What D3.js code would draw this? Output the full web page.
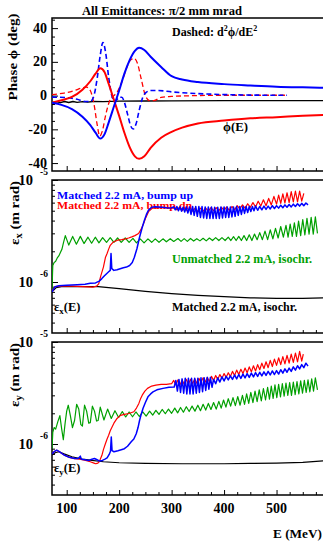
<!DOCTYPE html>
<html>
<head>
<meta charset="utf-8">
<script src="https://cdn.jsdelivr.net/npm/d3@7"></script>
<style>
  body { margin: 0; background: #fff; }
  svg { display: block; font-family: "Liberation Serif", "Times New Roman", serif; font-weight: bold; }
</style>
</head>
<body>
<svg id="chart" width="323" height="542"></svg>
<script>
// ---- data ----
// phase curves, [E (MeV), phi (deg)]
const phiBlue = [[72,-4.3],[90,-5.5],[110,-8],[130,-12.5],[145,-17.5],[155,-22],[164,-25.5],[172,-23],[180,-16],[190,-6.5],[200,3],[210,13],[220,21],[230,26.5],[238,28.3],[248,27],[260,23],[280,17],[300,11.5],[320,9.5],[350,8],[400,6.8],[450,6],[500,5.3],[550,4.9],[600,4.6]];
const phiRed = [[72,-4.3],[90,-2.8],[110,-0.8],[130,3.5],[145,8.5],[155,13],[164,16.2],[172,14],[180,7],[190,-2.5],[200,-12],[210,-22],[220,-30.5],[230,-36],[238,-37.5],[248,-36],[260,-31],[280,-25],[300,-21.5],[320,-19],[350,-16.5],[400,-14.8],[450,-13.5],[500,-12.8],[550,-12],[600,-11.4]];
const phiBlack = [[72,-4.3],[80,-3.6],[88,-4.2],[96,-3.5],[104,-4.1],[112,-3.5],[120,-4.0],[130,-3.6],[140,-3.9],[150,-3.5],[170,-3.6],[200,-3.3],[250,-3.2],[300,-3.1],[400,-3.0],[500,-3.0],[600,-3.0]];
const d2phiBlue = [[72,-0.9],[100,-1.2],[120,-2.2],[135,-3.5],[145,-3.5],[152,0],[158,10],[164,24],[169,31.5],[174,26],[180,11],[186,0],[192,-3.5],[200,-1],[205,-1],[210,-4],[216,-11],[222,-18],[227,-19.8],[232,-17],[238,-9],[245,-1],[252,2],[260,3],[275,3],[300,2.2],[350,1.2],[400,0.6],[450,0.3],[520,0.2]];
const d2phiRed = [[72,0.6],[95,1.5],[115,3],[130,4.6],[138,5],[145,3],[152,-5],[158,-17],[163,-24],[168,-21],[174,-12],[182,-3],[190,0],[196,2],[205,8],[215,17],[223,21.5],[229,22],[235,19],[242,10],[250,0],[258,-3],[266,-3],[280,-1],[300,-0.5],[350,0],[400,0.2],[450,0.2],[520,0.2]];

// horizontal emittance, [E (MeV), eps_x (1e-6 m rad)]
const exBlack = [[72,0.80],[80,0.88],[90,0.90],[120,0.90],[160,0.90],[200,0.86],[250,0.81],[300,0.77],[350,0.74],[400,0.72],[450,0.70],[500,0.69],[550,0.69],[600,0.70]];
const exBlue = [[72,0.80],[75,0.85],[78,0.9],[85,0.92],[100,0.93],[120,0.94],[135,0.95],[145,0.97],[155,0.98],[162,1.02],[167,1.08],[172,1.15],[177,1.22],[180,1.26],[183,1.3],[184.5,1.9],[186,1.35],[190,1.3],[196,1.32],[202,1.35],[208,1.38],[214,1.4],[220,1.45],[225,1.55],[229,1.75],[234,2.13],[238.5,2.7],[243.4,3.35],[248,4.0],[252,4.6],[256,5.07],[262,5.4],[268.8,5.47],[275,5.45],[282,5.42],[290,5.35],[298,5.3],
  [304,5.45],[307,5.1],[310,5.5],[313,5.0],[316,5.45],[319,4.95],[322,5.4],[325,4.85],[328,5.45],[331,4.75],[334,5.45],[337,4.6],[340,5.5],[343,4.5],[346,5.5],[349,4.4],[352,5.5],[355,4.3],[358,5.5],[361,4.25],[364,5.45],[367,4.2],[370,5.45],[373,4.2],[376,5.45],[379,4.2],[382,5.4],[385,4.2],[388,5.4],[391,4.2],[394,5.45],[397,4.25],[400,5.45],[403,4.3],[406,5.45],[409,4.3],[412,5.45],[415,4.35],[418,5.45],[421,4.4],[424,5.5],[427,4.5],[430,5.5],[433,4.6],[436,5.5],[439,4.7],[442,5.5],[445,4.8],[448,5.5],[451,4.9],[454,5.5],[457,5.0],[460,5.55],[464,5.05],[468,5.5],[472,5.1],[476,5.55],[480,5.15],[484,5.55],[488,5.2],[492,5.6],[496,5.25],[500,5.6],[504,5.3],[508,5.65],[512,5.35],[516,5.7],[520,5.4],[524,5.75],[528,5.45],[532,5.8],[536,5.5],[540,5.85],[544,5.55],[548,5.9],[552,5.6],[556,5.95],[560,5.7]];
const exRed = [[72,0.80],[75,0.86],[78,0.9],[90,0.91],[110,0.91],[130,0.9],[150,0.89],[157,0.91],[161,0.96],[165,1.15],[170,1.4],[174,1.75],[177,1.9],[180,2.1],[183,2.29],[189,2.47],[197,2.57],[205,2.6],[212,2.65],[218,2.7],[224,2.77],[230,2.85],[237,2.99],[242,3.3],[246.6,3.75],[251,4.3],[256,4.89],[262.4,5.26],[270,5.35],[280,5.4],[290,5.35],[300,5.3],
  [305,5.45],[310,5.1],[315,5.4],[320,5.0],[325,5.35],[330,4.95],[335,5.3],[340,4.95],[345,5.3],[350,4.9],[355,5.3],[360,4.95],[365,5.3],[370,4.95],[375,5.35],[380,5.0],[385,5.35],[390,5.0],[395,5.4],[400,5.05],[405,5.45],[410,5.05],[415,5.5],[420,5.1],[425,5.6],[430,5.2],[435,5.7],[440,5.3],[445,5.85],[450,5.4],[455,6.0],[460,5.45],[465,6.2],[470,5.55],[475,6.4],[480,5.6],[485,6.6],[490,5.7],[495,6.9],[500,5.8],[504,7.1],[508,5.9],[512,7.3],[516,5.95],[520,7.5],[524,6.0],[528,7.7],[532,6.1],[536,7.8],[540,6.1],[544,7.8],[548,6.2],[552,7.4]];
const exGreen = [[72,0.83],[73.5,1.45],[76,1.55],[79,1.6],[82,1.72],[85,1.8],[88,1.95],[91,2.1],[94,2.45],[97.4,2.85],[104,2.3],[111.4,2.8],[118.5,2.35],[126,2.8],[133,2.38],[140.6,2.75],[147.5,2.4],[154.5,2.75],[161.5,2.42],[168.5,2.72],[176,2.45],[183,2.72],[190,2.45],[197,2.7],[204,2.45],[211.6,2.7],[219,2.45],[226.3,2.68],[233,2.42],[240.2,2.65],[247.5,2.42],[254.9,2.65],[262,2.45],[268.8,2.65],[276,2.45],[283.5,2.65],[290,2.48],[297.4,2.66],[304,2.5],[312,2.67],[318,2.5],[324,2.66],[330,2.5],[336,2.67],[342,2.52],[348,2.66],[354,2.53],[360,2.68],[366,2.53],[372,2.7],[378,2.55],[384,2.72],[390,2.55],[396,2.72],[402,2.55],[408,2.75],[413,2.55],[418,2.78],[423,2.55],[428,2.8],[433,2.55],[438,2.85],[443,2.55],[448,2.9],[453,2.55],[458,2.95],[463,2.6],[468,3.05],[473,2.6],[478,3.15],[483,2.6],[488,3.25],[493,2.65],[498,3.35],[503,2.7],[508,3.5],[513,2.75],[518,3.6],[522,2.75],[526,3.7],[530,2.8],[534,3.8],[538,2.8],[542,3.95],[546,2.85],[550,4.1],[554,2.9],[558,4.2],[562,2.95],[566,4.3],[570,2.95],[574,4.35],[578,3.0]];

// vertical emittance, [E (MeV), eps_y (1e-6 m rad)]
const eyBlack = [[72,0.78],[78,0.82],[85,0.84],[95,0.8],[110,0.75],[130,0.71],[148,0.69],[170,0.67],[200,0.655],[250,0.645],[320,0.64],[400,0.64],[450,0.645],[500,0.65],[550,0.66],[600,0.69]];
const eyBlue = [[72,0.8],[76,0.84],[81,0.87],[86,0.84],[95,0.78],[105,0.74],[115,0.72],[122,0.72],[126,0.76],[128,0.71],[135,0.7],[142,0.69],[148,0.71],[153,0.72],[158,0.7],[163,0.68],[168,0.69],[173,0.71],[177,0.73],[181,0.79],[183.5,0.85],[185,1.17],[186.5,0.86],[190,0.84],[197.7,0.86],[204,0.88],[210,0.9],[216,0.95],[223,1.05],[228,1.12],[232.6,1.26],[236,1.45],[239,1.71],[242,1.95],[245.4,2.23],[250,2.55],[254.9,2.9],[260,3.1],[264.5,3.24],[272,3.4],[283.6,3.51],[295,3.6],[305,3.62],
  [308,4.2],[311,3.3],[314,4.3],[317,3.2],[320,4.35],[323,3.15],[326,4.4],[329,3.1],[332,4.4],[335,3.1],[338,4.4],[341,3.1],[344,4.4],[347,3.15],[350,4.4],[353,3.2],[356,4.45],[359,3.25],[362,4.45],[365,3.35],[368,4.5],[371,3.45],[374,4.5],[377,3.6],[380,4.3],[384,3.9],[388,4.45],[392,4.05],[396,4.55],[400,4.15],[404,4.6],[408,4.25],[412,4.65],[416,4.3],[420,4.75],[424,4.35],[428,4.8],[432,4.4],[436,4.85],[440,4.45],[444,4.9],[448,4.5],[452,4.95],[456,4.55],[460,5.0],[464,4.6],[468,5.05],[472,4.65],[476,5.1],[480,4.7],[484,5.15],[488,4.75],[492,5.2],[496,4.8],[500,5.25],[504,4.85],[508,5.35],[512,4.95],[516,5.45],[520,5.05],[524,5.55],[528,5.15],[532,5.7],[536,5.3],[540,5.85],[544,5.45],[548,6.0],[552,5.6],[556,6.2],[560,5.8]];
const eyRed = [[72,0.8],[76,0.84],[81,0.87],[86,0.84],[95,0.78],[105,0.74],[115,0.72],[125,0.71],[136,0.69],[145,0.67],[152,0.65],[155,0.64],[158,0.645],[161,0.66],[164,0.71],[167,0.77],[170,0.88],[173.6,1.0],[177,1.12],[180,1.22],[183,1.35],[186.5,1.47],[190,1.6],[196,1.78],[202.6,1.91],[210,1.95],[218.5,1.99],[228,2.07],[233,2.25],[237.6,2.5],[241,2.8],[244,3.01],[249,3.3],[254,3.51],[262,3.7],[270,3.78],[280,3.85],[290,3.85],[300,3.9],
  [304,4.2],[308,3.8],[312,4.25],[316,3.8],[320,4.25],[324,3.85],[328,4.3],[332,3.85],[336,4.3],[340,3.9],[344,4.35],[348,3.95],[352,4.4],[356,4.0],[360,4.45],[364,4.05],[368,4.5],[372,4.1],[376,4.6],[380,4.2],[384,4.7],[388,4.3],[392,4.8],[396,4.4],[400,4.9],[404,4.5],[408,5.0],[412,4.6],[416,5.15],[420,4.7],[424,5.3],[428,4.8],[432,5.4],[436,4.9],[440,5.55],[444,5.0],[448,5.7],[452,5.1],[456,5.85],[460,5.2],[464,6.0],[468,5.35],[472,6.2],[476,5.5],[480,6.4],[484,5.6],[488,6.6],[492,5.75],[496,6.8],[500,5.9],[504,7.0],[508,6.0],[512,7.2],[516,6.1],[520,7.4],[524,6.2],[528,7.6],[532,6.3],[536,7.8],[540,6.4],[544,8.1],[548,6.5],[551,7.6]];
const eyGreen = [[72,0.9],[73.5,1.3],[76,1.45],[79,1.4],[83,1.65],[87,1.9],[90.5,1.4],[93.6,1.1],[97,1.6],[100,2.1],[103,2.4],[107,1.9],[111,1.45],[115,1.7],[119,2.45],[123,2.2],[127,1.55],[130,1.5],[134,2.4],[138,2.1],[142,1.6],[145,1.62],[149,2.35],[153,2.1],[157,1.68],[160,1.7],[164,2.3],[171,1.72],[178,2.2],[185,1.78],[192,2.12],[199,1.82],[206,2.08],[212.5,1.84],[219,2.06],[225.5,1.85],[232,2.06],[238.5,1.86],[245,2.07],[251.5,1.88],[258,2.1],[264,1.92],[270,2.14],[276,1.95],[282,2.18],[288,1.98],[294,2.2],[300,2.0],[306,2.25],[311.5,2.02],[317,2.28],[322.5,2.05],[328,2.32],[333.5,2.08],[339,2.35],[344.5,2.1],[350,2.4],[355,2.12],[360,2.45],[365,2.15],[370,2.5],[375,2.18],[380,2.55],[385,2.2],[390,2.62],[394.5,2.25],[399,2.7],[403.5,2.3],[408,2.78],[412.5,2.35],[417,2.85],[421.5,2.38],[426,2.92],[430.5,2.4],[435,3.0],[439,2.45],[443,3.1],[447,2.5],[451,3.2],[455,2.55],[459,3.3],[463,2.6],[467,3.4],[471,2.65],[475,3.5],[479,2.7],[483,3.6],[486.5,2.75],[490,3.7],[493.5,2.8],[497,3.8],[500.5,2.85],[504,3.85],[507.5,2.9],[511,3.9],[514.5,2.95],[518,3.95],[521.5,3.0],[525,4.0],[528.5,3.0],[532,4.05],[535.5,3.05],[539,4.1],[542.5,3.1],[546,4.15],[549.5,3.15],[553,4.2],[556.5,3.2],[560,4.25],[563.5,3.25],[567,4.35],[570.5,3.3],[574,4.45],[578,3.4]];

// ticks
const xMajor = [100, 200, 300, 400, 500, 600];
const xLabels = [100, 200, 300, 400, 500];
const xMinor = [125, 150, 175, 225, 250, 275, 325, 350, 375, 425, 450, 475, 525, 550, 575];
const phiMajor = [-40, -20, 0, 20, 40];
const phiMinor = [-35, -30, -25, -15, -10, -5, 5, 10, 15, 25, 30, 35, 45];
const logMajor = [1, 10];
const logExp = ['-6', '-5'];
const logMinor = [0.4, 0.5, 0.6, 0.7, 0.8, 0.9, 2, 3, 4, 5, 6, 7, 8, 9];

const BLUE = '#0000ff', RED = '#ff0000', GREEN = '#00a000';

// ---- layout ----
const svg = d3.select('#chart');
const x = d3.scaleLinear().domain([72, 600]).range([52, 329]);
const pPhase = { id: 'c1', top: 18, bottom: 171 };
const pEx = { id: 'c2', top: 180, bottom: 333 };
const pEy = { id: 'c3', top: 342, bottom: 495 };

const yPhase = d3.scaleLinear().domain([-44.7, 46]).range([pPhase.bottom, pPhase.top]);
const yEx = d3.scaleLog().domain([Math.sqrt(0.1), 10]).range([pEx.bottom, pEx.top]);
const yEy = d3.scaleLog().domain([Math.sqrt(0.1), 10]).range([pEy.bottom, pEy.top]);

const defs = svg.append('defs');
[pPhase, pEx, pEy].forEach(p => {
  defs.append('clipPath').attr('id', p.id)
    .append('rect').attr('x', 52).attr('y', p.top).attr('width', 280).attr('height', p.bottom - p.top);
});

function drawFrame(p, y, major, minor) {
  const g = svg.append('g');
  // x ticks, pointing up into the plot
  g.append('g').attr('transform', `translate(0,${p.bottom})`)
    .call(d3.axisBottom(x).tickValues(xMajor).tickSize(-5).tickSizeOuter(0).tickFormat(''))
    .call(a => a.select('.domain').remove());
  g.append('g').attr('transform', `translate(0,${p.bottom})`)
    .call(d3.axisBottom(x).tickValues(xMinor).tickSize(-3).tickSizeOuter(0).tickFormat(''))
    .call(a => a.select('.domain').remove());
  // y ticks, pointing right
  g.append('g').attr('transform', 'translate(52,0)')
    .call(d3.axisLeft(y).tickValues(major).tickSize(-6).tickSizeOuter(0).tickFormat(''))
    .call(a => a.select('.domain').remove());
  g.append('g').attr('transform', 'translate(52,0)')
    .call(d3.axisLeft(y).tickValues(minor).tickSize(-3).tickSizeOuter(0).tickFormat(''))
    .call(a => a.select('.domain').remove());
  g.selectAll('.tick line').attr('stroke', '#000').attr('stroke-width', 1);
  // frame
  g.append('path')
    .attr('d', `M340,${p.top}H52V${p.bottom}H340`)
    .attr('fill', 'none').attr('stroke', '#000').attr('stroke-width', 1.5);
}

function drawLine(p, y, data, color, width, dash) {
  svg.append('path')
    .datum(data)
    .attr('clip-path', `url(#${p.id})`)
    .attr('fill', 'none')
    .attr('stroke', color)
    .attr('stroke-width', width)
    .attr('stroke-linejoin', 'round')
    .attr('stroke-dasharray', dash || null)
    .attr('d', d3.line().x(d => x(d[0])).y(d => y(d[1])).curve(dash || width > 1.8 ? d3.curveMonotoneX : d3.curveLinear));
}

// width = span measured on the reference, so the font metrics cannot drift
function text(xp, yp, str, size, color, anchor, width) {
  const t = svg.append('text').attr('x', xp).attr('y', yp)
    .attr('font-size', size).attr('fill', color || '#000')
    .attr('text-anchor', anchor || 'start').text(str);
  if (width) t.attr('textLength', width).attr('lengthAdjust', 'spacingAndGlyphs');
  return t;
}

function logLabels(y) {
  logMajor.forEach((v, i) => {
    text(33, y(v) + 5, '10', 14.5, '#000', 'end');
    text(40, y(v) - 5, logExp[i], 9.5, '#000', 'start');
  });
}

// ---- panel 1: phase ----
drawFrame(pPhase, yPhase, phiMajor, phiMinor);
phiMajor.forEach(v => text(47, yPhase(v) + 4.5, String(v), 14, '#000', 'end'));
text(82, 15, 'All Emittances: \u03c0/2 mm mrad', 12, '#000', 'start', 160);
const dsh = text(172, 36, 'Dashed: d', 12);
dsh.append('tspan').attr('dy', -5).attr('font-size', 8).text('2');
dsh.append('tspan').attr('dy', 5).text('\u03d5/dE');
dsh.append('tspan').attr('dy', -5).attr('font-size', 8).text('2');
text(223, 131, '\u03d5(E)', 12.5, '#000', 'start', 25);
svg.append('text').attr('transform', 'translate(17,57) rotate(-90)')
  .attr('font-size', 13.5).attr('text-anchor', 'middle')
  .attr('textLength', 87).attr('lengthAdjust', 'spacingAndGlyphs')
  .text('Phase \u03d5 (deg)');

drawLine(pPhase, yPhase, phiBlack, '#000', 1.4);
drawLine(pPhase, yPhase, d2phiRed, RED, 1.3, '5,3');
drawLine(pPhase, yPhase, d2phiBlue, BLUE, 1.6, '5,3');
drawLine(pPhase, yPhase, phiRed, RED, 2);
drawLine(pPhase, yPhase, phiBlue, BLUE, 2);

// ---- panel 2: eps_x ----
drawFrame(pEx, yEx, logMajor, logMinor);
logLabels(yEx);
text(57, 198.5, 'Matched 2.2 mA, bump up', 11, BLUE, 'start', 136);
text(57, 208.5, 'Matched 2.2 mA, bump dn', 11, RED, 'start', 135);
text(172, 263, 'Unmatched 2.2 mA, isochr.', 11.5, GREEN, 'start', 140);
text(172, 311, 'Matched 2.2 mA, isochr.', 11.5, '#000', 'start', 125);
const exl = text(54, 311, '\u03b5', 12.5);
exl.append('tspan').attr('dy', 3).attr('font-size', 9).text('x');
exl.append('tspan').attr('dy', -3).text('(E)');
const exa = svg.append('text').attr('transform', 'translate(19,213) rotate(-90)')
  .attr('font-size', 13.5).attr('text-anchor', 'middle')
  .attr('textLength', 64).attr('lengthAdjust', 'spacingAndGlyphs').text('\u03b5');
exa.append('tspan').attr('dy', 3).attr('font-size', 9.5).text('x');
exa.append('tspan').attr('dy', -3).text(' (m rad)');

drawLine(pEx, yEx, exBlack, '#000', 1.2);
drawLine(pEx, yEx, exGreen, GREEN, 1.2);
drawLine(pEx, yEx, exRed, RED, 1.2);
drawLine(pEx, yEx, exBlue, BLUE, 1.5);

// ---- panel 3: eps_y ----
drawFrame(pEy, yEy, logMajor, logMinor);
logLabels(yEy);
const eyl = text(54, 472, '\u03b5', 12.5);
eyl.append('tspan').attr('dy', 3).attr('font-size', 9).text('y');
eyl.append('tspan').attr('dy', -3).text('(E)');
const eya = svg.append('text').attr('transform', 'translate(19,375) rotate(-90)')
  .attr('font-size', 13.5).attr('text-anchor', 'middle')
  .attr('textLength', 64).attr('lengthAdjust', 'spacingAndGlyphs').text('\u03b5');
eya.append('tspan').attr('dy', 3).attr('font-size', 9.5).text('y');
eya.append('tspan').attr('dy', -3).text(' (m rad)');

drawLine(pEy, yEy, eyBlack, '#000', 1.2);
drawLine(pEy, yEy, eyGreen, GREEN, 1.2);
drawLine(pEy, yEy, eyRed, RED, 1.2);
drawLine(pEy, yEy, eyBlue, BLUE, 1.5);

// x tick labels and title under the last panel
xLabels.forEach(v => text(x(v), 513, String(v), 14, '#000', 'middle'));
text(273, 538, 'E (MeV)', 13.5, '#000', 'start', 49);
</script>
</body>
</html>
